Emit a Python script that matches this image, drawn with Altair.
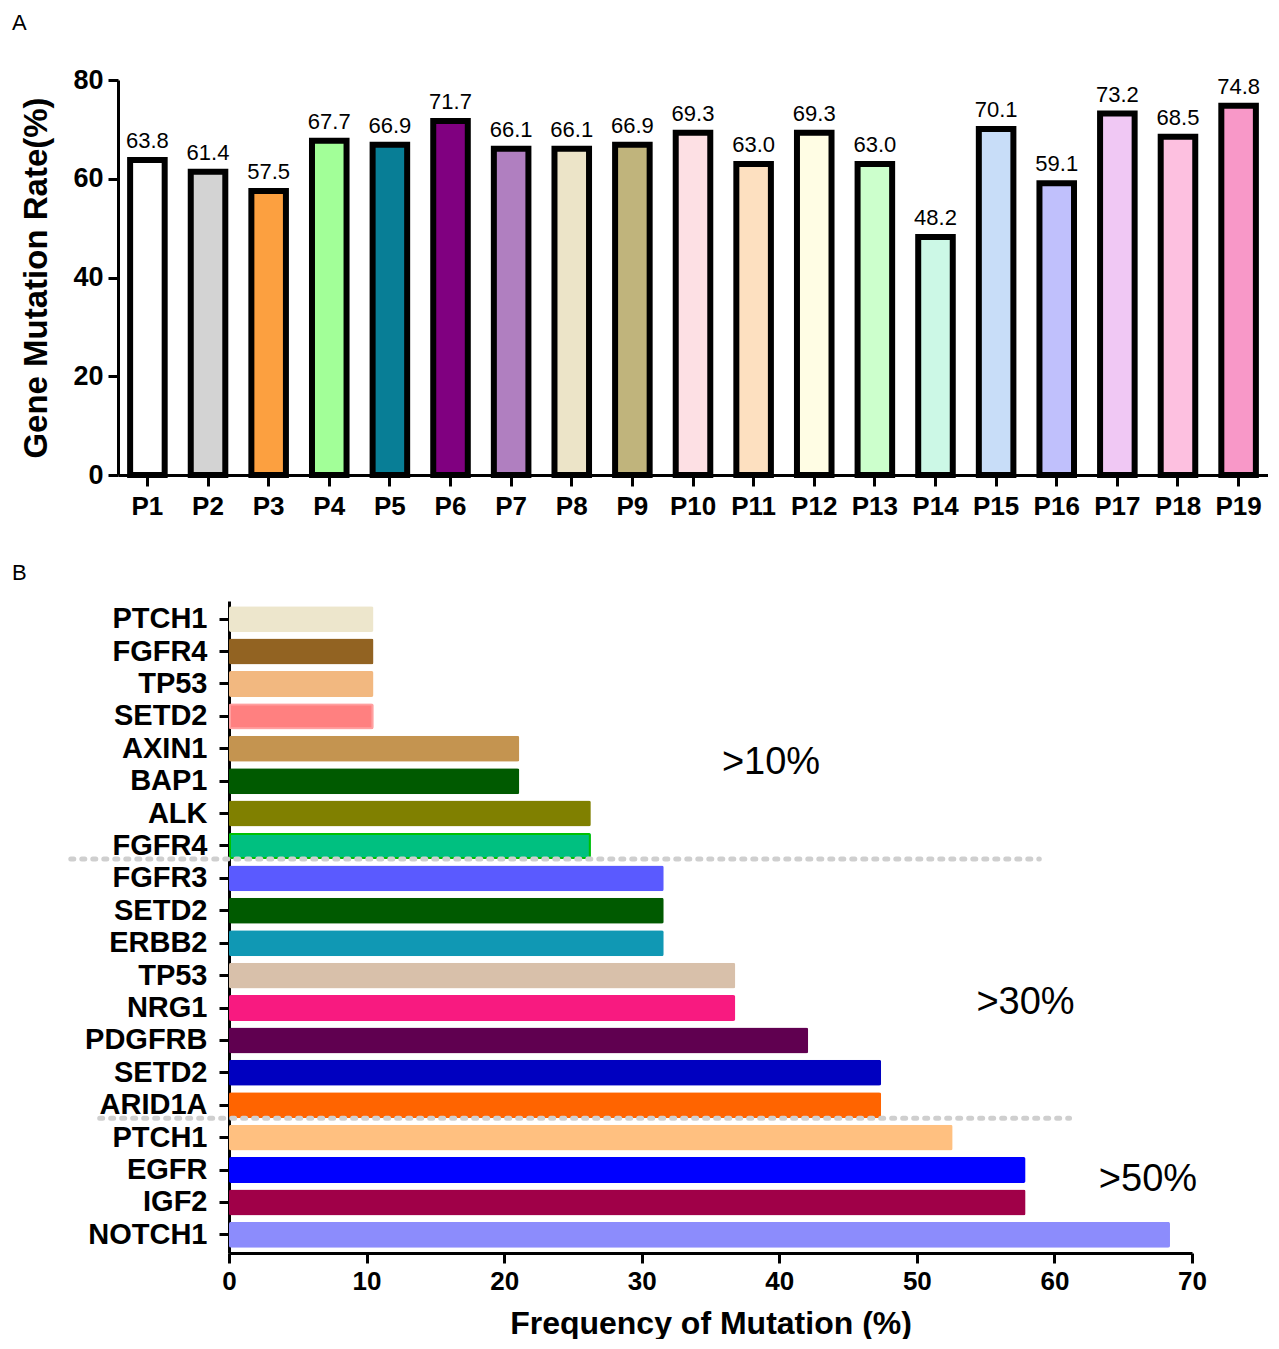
import altair as alt
import pandas as pd

FONT = "Liberation Sans, Arial, sans-serif"

# ---------- Panel A data ----------
patients = ["P1", "P2", "P3", "P4", "P5", "P6", "P7", "P8", "P9", "P10",
            "P11", "P12", "P13", "P14", "P15", "P16", "P17", "P18", "P19"]
rates = [63.8, 61.4, 57.5, 67.7, 66.9, 71.7, 66.1, 66.1, 66.9, 69.3,
         63.0, 69.3, 63.0, 48.2, 70.1, 59.1, 73.2, 68.5, 74.8]
patient_colors = ["#ffffff", "#d3d3d3", "#fca040", "#a2ff98", "#087e96", "#800080",
                  "#b07fc0", "#ece4c8", "#c0b47c", "#fde0e4", "#fde0c0", "#fffde4",
                  "#ccffcc", "#ccf8e6", "#c8ddf8", "#c0c0fc", "#f0c8f4", "#fdc0e0",
                  "#f898c8"]

# ---------- Panel B data ----------
genes = ["PTCH1", "FGFR4", "TP53", "SETD2", "AXIN1", "BAP1", "ALK", "FGFR4",
         "FGFR3", "SETD2", "ERBB2", "TP53", "NRG1", "PDGFRB", "SETD2", "ARID1A",
         "PTCH1", "EGFR", "IGF2", "NOTCH1"]
freqs = [10.5, 10.5, 10.5, 10.5, 21.1, 21.1, 26.3, 26.3,
         31.6, 31.6, 31.6, 36.8, 36.8, 42.1, 47.4, 47.4,
         52.6, 57.9, 57.9, 68.4]
gene_colors = ["#ede6cc", "#926322", "#f2b880", "#ff8080", "#c49450", "#005a00",
               "#808000", "#00c080", "#5a5aff", "#005a00", "#1098b4", "#d8c0aa",
               "#f81a80", "#600050", "#0000c0", "#ff6400", "#ffc080", "#0000ff",
               "#a00048", "#8c8cfc"]
gene_strokes = ["#ede6cc", "#926322", "#f2b880", "#ffa0a0", "#c49450", "#005a00",
                "#808000", "#00c000", "#5a5aff", "#005a00", "#1098b4", "#d8c0aa",
                "#f81a80", "#600050", "#0000c0", "#ff6400", "#ffc080", "#0000ff",
                "#a00048", "#8c8cfc"]
gene_stroke_widths = [0, 0, 0, 4, 0, 0, 0, 4, 0, 0, 0, 0, 0, 0, 0, 0, 0, 0, 0, 0]

# dividers (dashed lines) after these rows, with their horizontal extent (%)
divider_after = [7, 15]
divider_x0 = [-11.5, -9.4]
divider_x1 = [58.9, 61.1]

# group annotations
group_labels = [">10%", ">30%", ">50%"]
group_x = [39.4, 57.9, 66.8]
group_row = [4, 12, 17]
group_dy = [14, -5, 10]

# ---------- build tables ----------
dfA = pd.DataFrame({"patient": patients, "rate": rates, "color": patient_colors})

ids = [f"{g}_{i}" for i, g in enumerate(genes)]
dfB = pd.DataFrame({"id": ids, "gene": genes, "freq": freqs, "color": gene_colors,
                    "stroke": gene_strokes, "sw": gene_stroke_widths})
dfDiv = pd.DataFrame({"id": [ids[i] for i in divider_after],
                      "x0": divider_x0, "x1": divider_x1})

# ---------- Panel A ----------
xA = alt.X("patient:N", sort=patients,
           scale=alt.Scale(domain=patients, paddingInner=0.43, paddingOuter=0.2),
           axis=alt.Axis(title=None, labelAngle=0, labelFontSize=26, labelFontWeight="bold",
                         labelFont=FONT, tickSize=11, tickWidth=3, domainWidth=3,
                         labelPadding=7, labelColor="black", tickColor="black",
                         domainColor="black"))
yA = alt.Y("rate:Q", scale=alt.Scale(domain=[0, 80], nice=False),
           axis=alt.Axis(values=[0, 20, 40, 60, 80], title="Gene Mutation Rate(%)",
                         titleFontSize=33, titleFont=FONT, titleFontWeight="bold",
                         titleColor="black", titlePadding=19,
                         labelFontSize=27, labelFontWeight="bold", labelFont=FONT,
                         labelColor="black", labelPadding=5, tickSize=10, tickWidth=3,
                         labelFlush=False,
                         domainWidth=3, tickColor="black", domainColor="black",
                         grid=False))

barsA = alt.Chart(dfA).mark_bar(stroke="black", strokeWidth=6).encode(
    x=xA, y=yA, color=alt.Color("color:N", scale=None))
labelsA = alt.Chart(dfA).mark_text(baseline="bottom", dy=-7, fontSize=22,
                                   font=FONT, color="black").encode(
    x=xA, y=yA, text=alt.Text("rate:Q", format=".1f"))
letterA = alt.Chart(pd.DataFrame({"t": ["A"]})).mark_text(
    align="left", baseline="top", fontSize=22, font=FONT, color="black").encode(
    x=alt.value(-106), y=alt.value(-67), text="t:N")

chartA = alt.layer(barsA, labelsA, letterA).properties(width=1150, height=395)

# ---------- Panel B ----------
yB = alt.Y("id:N", sort=ids,
           scale=alt.Scale(domain=ids, paddingInner=0.2, paddingOuter=0.16),
           axis=alt.Axis(title=None, labelExpr="split(datum.label, '_')[0]",
                         labelFontSize=29, labelFontWeight="bold", labelFont=FONT,
                         labelColor="black", labelPadding=12, tickSize=10, tickWidth=3,
                         domainWidth=3, tickColor="black", domainColor="black"))
xB = alt.X("freq:Q", scale=alt.Scale(domain=[0, 70], nice=False),
           axis=alt.Axis(values=[0, 10, 20, 30, 40, 50, 60, 70],
                         title="Frequency of Mutation (%)", titleFontSize=32,
                         titleFont=FONT, titleFontWeight="bold", titleColor="black",
                         titlePadding=14, labelFontSize=26, labelFontWeight="bold",
                         labelFont=FONT, labelColor="black", labelPadding=5,
                         labelFlush=False,
                         tickSize=10, tickWidth=3, domainWidth=3, tickColor="black",
                         domainColor="black", grid=False))

barsB = alt.Chart(dfB).mark_bar(cornerRadius=2).encode(
    y=yB, x=xB,
    color=alt.Color("color:N", scale=None),
    stroke=alt.Stroke("stroke:N", scale=None),
    strokeWidth=alt.StrokeWidth("sw:Q", scale=None))

rulesB = alt.Chart(dfDiv).mark_rule(color="#cfcfcf", strokeWidth=5, strokeDash=[3, 8],
                                    strokeCap="round").encode(
    y=alt.Y("id:N", bandPosition=1, scale=alt.Scale(domain=ids)),
    x=alt.X("x0:Q"), x2="x1:Q")

annots = []
for lab, gx, gr, gdy in zip(group_labels, group_x, group_row, group_dy):
    d = pd.DataFrame({"t": [lab], "freq": [gx], "id": [ids[gr]]})
    annots.append(alt.Chart(d).mark_text(fontSize=38, font=FONT, color="black",
                                         baseline="middle", align="center", dy=gdy).encode(
        x=alt.X("freq:Q"), y=alt.Y("id:N", scale=alt.Scale(domain=ids)), text="t:N"))

chartB = alt.layer(barsB, rulesB, *annots).properties(width=963, height=652)

# spacer on the left of panel B holding the "B" letter
spacerB = alt.Chart(pd.DataFrame({"t": ["B"]})).mark_text(
    align="left", baseline="top", fontSize=22, font=FONT, color="black").encode(
    x=alt.value(-106), y=alt.value(-38), text="t:N").properties(width=111, height=652)

rowB = alt.HConcatChart(hconcat=[spacerB, chartB], spacing=0, bounds="flush")

chart = alt.ConcatChart(concat=[chartA, rowB], columns=1, spacing=126,
                        bounds="flush",
                        padding={"left": 4, "top": 4, "right": 0, "bottom": 0}).configure(
    font=FONT).configure_view(strokeWidth=0, stroke="transparent")

chart.save("out.html", embed_options={"renderer": "svg", "actions": False})
